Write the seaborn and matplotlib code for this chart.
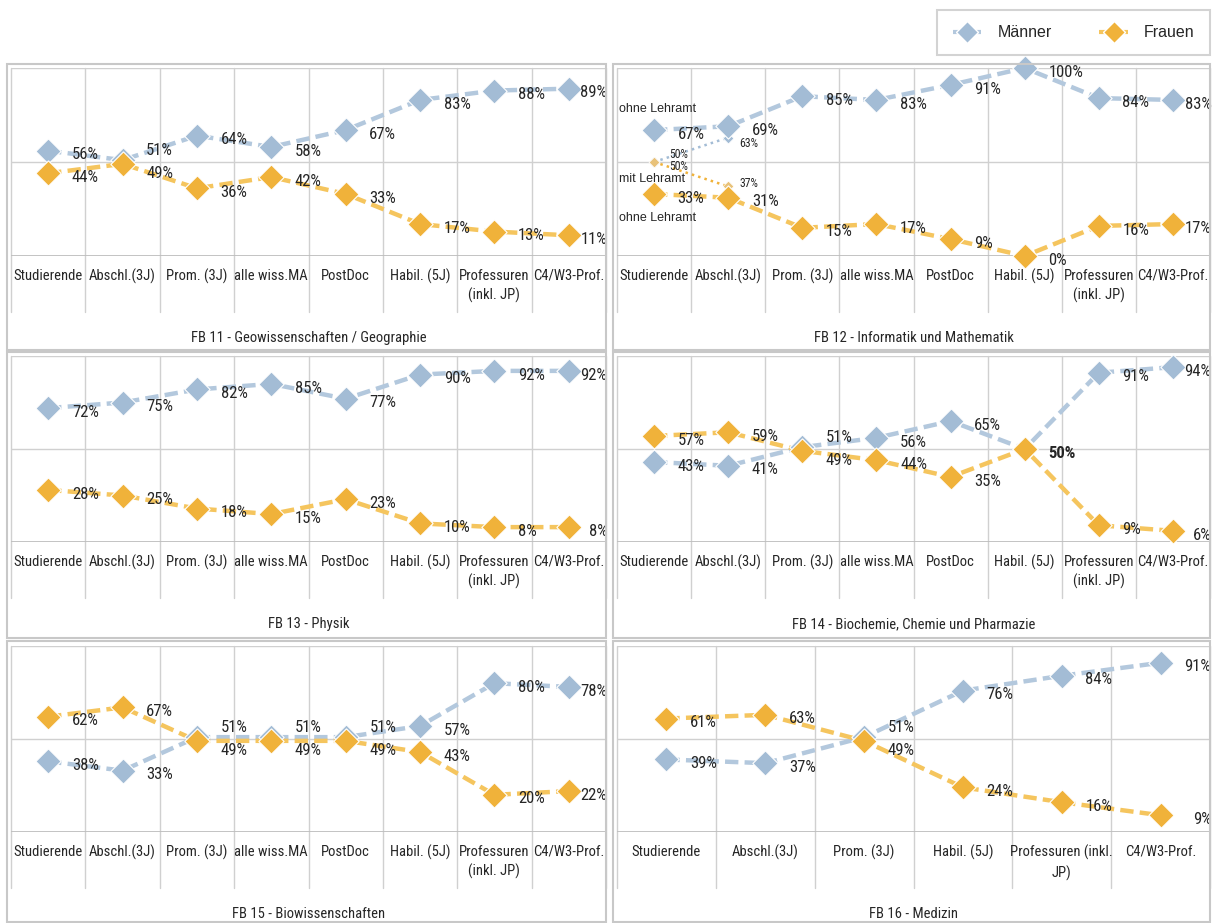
import seaborn as sns
import matplotlib.pyplot as plt
import pandas as pd
from matplotlib.lines import Line2D
from matplotlib.patches import Rectangle

# Categories
cats8 = ['Studierende', 'Abschl.(3J)', 'Prom. (3J)', 'alle wiss.MA', 'PostDoc',
         'Habil. (5J)', 'Professuren\n(inkl. JP)', 'C4/W3-Prof.']
cats6 = ['Studierende', 'Abschl.(3J)', 'Prom. (3J)', 'Habil. (5J)',
         'Professuren (inkl.\nJP)', 'C4/W3-Prof.']

# Shares in percent (Männer / Frauen)
fb11_m = [56, 51, 64, 58, 67, 83, 88, 89]
fb11_f = [44, 49, 36, 42, 33, 17, 13, 11]
fb12_m = [67, 69, 85, 83, 91, 100, 84, 83]
fb12_f = [33, 31, 15, 17, 9, 0, 16, 17]
fb13_m = [72, 75, 82, 85, 77, 90, 92, 92]
fb13_f = [28, 25, 18, 15, 23, 10, 8, 8]
fb14_m = [43, 41, 51, 56, 65, 50, 91, 94]
fb14_f = [57, 59, 49, 44, 35, 50, 9, 6]
fb15_m = [38, 33, 51, 51, 51, 57, 80, 78]
fb15_f = [62, 67, 49, 49, 49, 43, 20, 22]
fb16_m = [39, 37, 51, 76, 84, 91]
fb16_f = [61, 63, 49, 24, 16, 9]

# FB 12: mit Lehramt (first two categories)
fb12_lehramt_m = [50, 63]
fb12_lehramt_f = [50, 37]

titles = ['FB 11 - Geowissenschaften / Geographie', 'FB 12 - Informatik und Mathematik',
          'FB 13 - Physik', 'FB 14 - Biochemie, Chemie und Pharmazie',
          'FB 15 - Biowissenschaften', 'FB 16 - Medizin']

M_MARK, M_LINE = '#A3BCD5', '#B3C8DD'
F_MARK, F_LINE = '#F0B23A', '#F5C55E'
GRID = '#D0D0D0'
NARROW = dict(family=['Roboto Condensed', 'Liberation Sans Narrow', 'Roboto', 'DejaVu Sans'],
              fontstretch='condensed')
PLAIN = ['Liberation Sans', 'DejaVu Sans']

W, H = 1212, 923
sns.set_style('white')
fig = plt.figure(figsize=(W / 100, H / 100), dpi=100)

# pixel layout: plot x-range per column, plot y-range + frame y-range per row
cols = [(11, 606, 7, 606), (617, 1210, 613, 1210)]
rows = [(68, 256, 64, 350), (356, 542, 352, 638), (646, 832, 641, 922)]

panels = [
    (cats8, fb11_m, fb11_f), (cats8, fb12_m, fb12_f),
    (cats8, fb13_m, fb13_f), (cats8, fb14_m, fb14_f),
    (cats8, fb15_m, fb15_f), (cats6, fb16_m, fb16_f),
]

axes = []
for i, (cats, men, women) in enumerate(panels):
    r, c = divmod(i, 2)
    x0, x1, fx0, fx1 = cols[c]
    y0, y1, fy0, fy1 = rows[r]
    fig.add_artist(Rectangle((fx0 / W, 1 - fy1 / H), (fx1 - fx0) / W, (fy1 - fy0) / H,
                             transform=fig.transFigure, fill=False, ec='#C8C8C8', lw=1.5))
    ax = fig.add_axes([x0 / W, 1 - y1 / H, (x1 - x0) / W, (y1 - y0) / H])
    axes.append(ax)
    n = len(cats)
    pos = list(range(n))
    df = pd.DataFrame({'pos': pos * 2, 'val': men + women,
                       'g': ['Männer'] * n + ['Frauen'] * n})

    # grid and borders
    lab_depth = -56 / (y1 - y0)
    for b in range(n + 1):
        ax.axvline(b - 0.5, ymin=lab_depth, ymax=1, color=GRID, lw=1, clip_on=False, zorder=0)
    ax.axhline(50, color=GRID, lw=1, zorder=0)
    ax.axhline(100, color=GRID, lw=1, zorder=0)
    ax.axhline(0, color='#BDBDBD', lw=2, zorder=0)

    for g, lc, mc in [('Männer', M_LINE, M_MARK), ('Frauen', F_LINE, F_MARK)]:
        d = df[df['g'] == g]
        sns.lineplot(data=d, x='pos', y='val', ax=ax, color=lc, lw=3.2,
                     linestyle=(0, (3, 1.4)), zorder=2)
        sns.scatterplot(data=d, x='pos', y='val', ax=ax, marker='D', s=165, color=mc,
                        edgecolor='white', linewidth=0.8, zorder=3, clip_on=False)

    # data labels
    for k in range(n):
        m, f = men[k], women[k]
        last = k == n - 1
        for v, g in [(m, 'M'), (f, 'F')]:
            if m == f and g == 'M':
                continue
            dy = -3
            if m != f and abs(m - f) <= 4:
                dy = 7 if g == 'M' else -7
            weight = 'bold' if m == f else 'normal'
            if last:
                ax.annotate(f'{v}%', xy=(1, v), xycoords=('axes fraction', 'data'),
                            xytext=(1, dy), textcoords='offset points', ha='right',
                            va='center', fontsize=12, weight=weight, zorder=4, **NARROW)
            else:
                ax.annotate(f'{v}%', xy=(k, v), xytext=(17, dy), textcoords='offset points',
                            ha='left', va='center', fontsize=12, weight=weight, zorder=4,
                            **NARROW)

    ax.set_xlim(-0.5, n - 0.5)
    ax.set_ylim(0, 100)
    ax.set_xticks(pos)
    ax.set_xticklabels(cats, fontsize=10.5, linespacing=1.45, **NARROW)
    ax.tick_params(axis='x', length=0, pad=9)
    ax.set_yticks([])
    ax.set_xlabel('')
    ax.set_ylabel('')
    ax.patch.set_alpha(0)
    for s in ax.spines.values():
        s.set_visible(False)
    ax.text(0.5, -82 / (y1 - y0), titles[i], transform=ax.transAxes, ha='center',
            va='center', fontsize=10.5, **NARROW)

# FB 12 extras: mit Lehramt
ax = axes[1]
ax.plot([0, 1], fb12_lehramt_m, ls=':', color=M_MARK, lw=1.8, zorder=1)
ax.plot([0, 1], fb12_lehramt_f, ls=':', color=F_MARK, lw=1.8, zorder=1)
sns.scatterplot(x=[0, 1], y=fb12_lehramt_m, ax=ax, marker='D', s=30, color=M_MARK,
                edgecolor='white', linewidth=0.5, zorder=1)
sns.scatterplot(x=[0, 1], y=fb12_lehramt_f, ax=ax, marker='D', s=30, color='#E8C27A',
                edgecolor='white', linewidth=0.5, zorder=1)
ax.annotate(f'{fb12_lehramt_m[0]}%', xy=(0, fb12_lehramt_m[0]), xytext=(11, 5.5),
            textcoords='offset points', fontsize=8.5, va='center', **NARROW)
ax.annotate(f'{fb12_lehramt_f[0]}%', xy=(0, fb12_lehramt_f[0]), xytext=(11, -3.5),
            textcoords='offset points', fontsize=8.5, va='center', **NARROW)
ax.annotate(f'{fb12_lehramt_m[1]}%', xy=(1, fb12_lehramt_m[1]), xytext=(8, -4),
            textcoords='offset points', fontsize=8.5, va='center', **NARROW)
ax.annotate(f'{fb12_lehramt_f[1]}%', xy=(1, fb12_lehramt_f[1]), xytext=(8, 2),
            textcoords='offset points', fontsize=8.5, va='center', **NARROW)
for txt, yv in [('ohne Lehramt', 78), ('mit Lehramt', 41), ('ohne Lehramt', 20)]:
    ax.text(0.003, yv, txt, transform=ax.get_yaxis_transform(), fontsize=9,
            family=PLAIN, va='center', ha='left', zorder=5)

# legend
handles = [Line2D([0], [0], color=M_LINE, lw=3, ls=(0, (3, 1.4)), marker='D', ms=11,
                  markerfacecolor=M_MARK, markeredgecolor='white'),
           Line2D([0], [0], color=F_LINE, lw=3, ls=(0, (3, 1.4)), marker='D', ms=11,
                  markerfacecolor=F_MARK, markeredgecolor='white')]
leg = fig.legend(handles, ['Männer', 'Frauen'], loc='upper right', ncol=2,
                 bbox_to_anchor=(1210 / W, 1 - 10 / H), frameon=True, fancybox=False,
                 edgecolor='#C8C8C8', handlelength=1.8, handletextpad=1.0,
                 columnspacing=3.0, prop={'family': PLAIN, 'size': 11.5},
                 borderpad=0.95, borderaxespad=0)
leg.get_frame().set_linewidth(1.5)

plt.savefig('out.png', dpi=100)
